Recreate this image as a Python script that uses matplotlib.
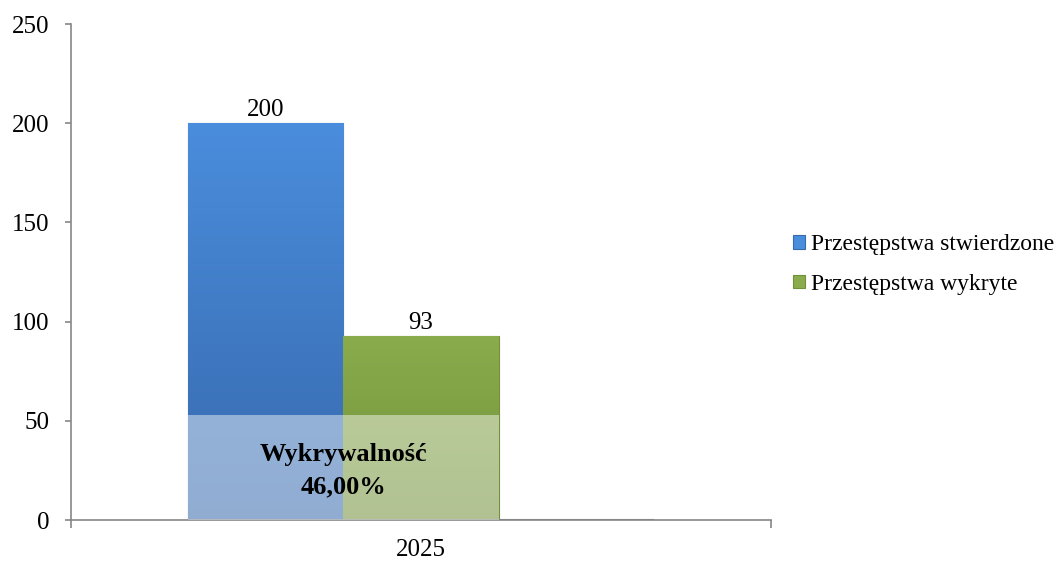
import matplotlib
matplotlib.use("Agg")
import matplotlib.pyplot as plt
import numpy as np

years = ["2025"]
series_names = ["Przestępstwa stwierdzone", "Przestępstwa wykryte", ""]
stwierdzone = [200]
wykryte = [93]
puste = [0]
wykrywalnosc_label = "Wykrywalność\n46,00%"
overlay_height = 53
y_ticks = [0, 50, 100, 150, 200, 250]

plt.rcParams["font.family"] = ["Liberation Serif", "DejaVu Serif"]

fig = plt.figure(figsize=(10.59, 5.61), dpi=100)
ax = fig.add_axes([0.067, 0.073, 0.661, 0.884])

x = np.arange(len(years))
width = 0.222
offsets = [-width, 0, width]
values = [stwierdzone, wykryte, puste]
top_cols = ["#4a8ddc", "#8aac4c", "#b0b0b0"]
bot_cols = ["#3769ad", "#72903a", "#909090"]

bars_all = []
for off, vals, name, ct, cb in zip(offsets, values, series_names, top_cols, bot_cols):
    bars = ax.bar(x + off, vals, width, color=ct, edgecolor=cb, linewidth=0.8,
                  label=name if name else "_nolegend_", zorder=2)
    bars_all.append(bars)
    # vertical gradient inside each bar
    for b in bars:
        h = b.get_height()
        if h <= 0:
            b.set_edgecolor("#8a8a8a")
            b.set_linewidth(1.5)
            continue
        c1 = np.array(matplotlib.colors.to_rgb(ct))
        c2 = np.array(matplotlib.colors.to_rgb(cb))
        t = np.linspace(0, 1, 100)[:, None]
        grad = (c1 * (1 - t) + c2 * t)[:, None, :]
        im = ax.imshow(grad, extent=[b.get_x(), b.get_x() + b.get_width(), 0, h],
                       aspect="auto", origin="upper", zorder=2.1)
        im.set_clip_path(b)

# value labels
for bars, vals in zip(bars_all[:2], values[:2]):
    for b, v in zip(bars, vals):
        ax.text(b.get_x() + b.get_width() / 2, v + 1.0, f"{v}",
                ha="center", va="bottom", fontsize=18, zorder=5)

# semi-transparent box with detection rate
left = bars_all[0][0].get_x()
right = bars_all[1][0].get_x() + bars_all[1][0].get_width()
ax.add_patch(plt.Rectangle((left, 0), right - left, overlay_height,
                           facecolor="white", alpha=0.45, edgecolor="none", zorder=3))
ax.text((left + right) / 2, 25.0, wykrywalnosc_label, ha="center", va="center",
        fontsize=19, fontweight="bold", linespacing=1.55, zorder=5)

ax.set_xlim(-0.5, 0.5)
ax.set_ylim(0, 250)
ax.set_yticks(y_ticks)
ax.set_xticks(x)
ax.set_xticklabels(years)
ax.set_xticks([-0.5, 0.5], minor=True)
ax.tick_params(axis="x", which="major", length=0, labelsize=18, pad=14)
ax.tick_params(axis="x", which="minor", length=6, color="#868686", width=1.2)
ax.tick_params(axis="y", length=4.5, color="#868686", width=1.2, labelsize=18, pad=11)

for s in ["top", "right"]:
    ax.spines[s].set_visible(False)
for s in ["left", "bottom"]:
    ax.spines[s].set_color("#868686")
    ax.spines[s].set_linewidth(1.2)

ax.legend(loc="center left", bbox_to_anchor=(1.015, 0.515), frameon=False,
          fontsize=17, handlelength=0.5, handleheight=0.5, handletextpad=0.25,
          labelspacing=0.8, borderpad=0)

fig.savefig("out.png", dpi=100)
